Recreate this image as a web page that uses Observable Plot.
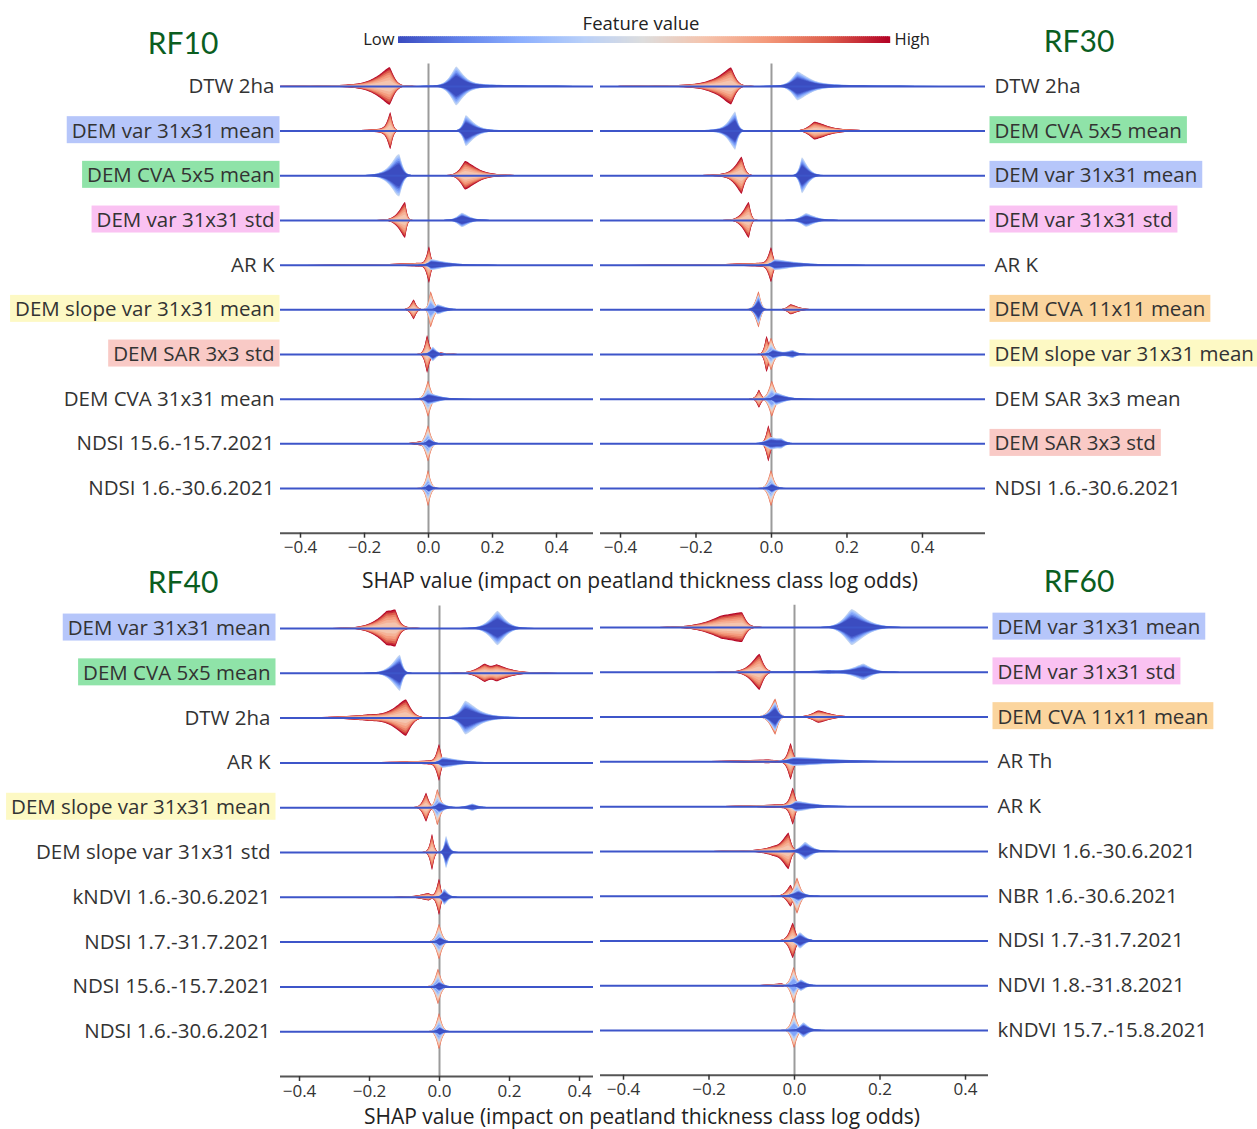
<!DOCTYPE html>
<html>
<head>
<meta charset="utf-8">
<script src="https://cdn.jsdelivr.net/npm/d3@7"></script>
<script src="https://cdn.jsdelivr.net/npm/@observablehq/plot@0.6"></script>
<style>
  body { margin: 0; background: #fff; }
  #fig { position: relative; width: 1257px; height: 1129px; overflow: hidden; font-family: "Open Sans", sans-serif; color: #333; background: #fff; }
  .title { position: absolute; font-family: Lato, sans-serif; font-size: 30px; color: #0b5e1f; transform: translate(-50%, -50%); white-space: nowrap; }
  .xlabel { position: absolute; font-size: 21px; color: #222; transform: translate(-50%, -50%); white-space: nowrap; }
</style>
</head>
<body>
<div id="fig"></div>
<script>
// ---- data -----------------------------------------------------------------
const shapTicks = [-0.4, -0.2, 0, 0.2, 0.4];

const rf10Features = ["DTW 2ha", "DEM var 31x31 mean", "DEM CVA 5x5 mean", "DEM var 31x31 std", "AR K",
  "DEM slope var 31x31 mean", "DEM SAR 3x3 std", "DEM CVA 31x31 mean", "NDSI 15.6.-15.7.2021", "NDSI 1.6.-30.6.2021"];
const rf30Features = ["DTW 2ha", "DEM CVA 5x5 mean", "DEM var 31x31 mean", "DEM var 31x31 std", "AR K",
  "DEM CVA 11x11 mean", "DEM slope var 31x31 mean", "DEM SAR 3x3 mean", "DEM SAR 3x3 std", "NDSI 1.6.-30.6.2021"];
const rf40Features = ["DEM var 31x31 mean", "DEM CVA 5x5 mean", "DTW 2ha", "AR K", "DEM slope var 31x31 mean",
  "DEM slope var 31x31 std", "kNDVI 1.6.-30.6.2021", "NDSI 1.7.-31.7.2021", "NDSI 15.6.-15.7.2021", "NDSI 1.6.-30.6.2021"];
const rf60Features = ["DEM var 31x31 mean", "DEM var 31x31 std", "DEM CVA 11x11 mean", "AR Th", "AR K",
  "kNDVI 1.6.-30.6.2021", "NBR 1.6.-30.6.2021", "NDSI 1.7.-31.7.2021", "NDVI 1.8.-31.8.2021", "kNDVI 15.7.-15.8.2021"];

// SHAP density lobes: [feature row, feature-value group, peak SHAP, peak density, spread left, spread right]
const rf10Lobes = [
  [0, "hi", -0.12, 1.0, 0.045, 0.018], [0, "hi", -0.17, 0.12, 0.12, 0.05],
  [0, "lo", 0.088, 1.0, 0.025, 0.03], [0, "lo", 0.12, 0.12, 0.06, 0.14],
  [1, "hi", -0.118, 1.0, 0.012, 0.009], [1, "hi", -0.14, 0.1, 0.07, 0.02],
  [1, "lo", 0.118, 0.82, 0.012, 0.03], [1, "lo", 0.15, 0.08, 0.04, 0.08],
  [2, "lo", -0.09, 1.0, 0.03, 0.013], [2, "lo", -0.1, 0.25, 0.05, 0.02],
  [2, "hi", 0.116, 0.75, 0.02, 0.04], [2, "hi", 0.15, 0.1, 0.04, 0.09],
  [3, "hi", -0.072, 1.0, 0.025, 0.007], [3, "lo", 0.106, 0.4, 0.02, 0.03],
  [4, "hi", 0.003, 1.0, 0.01, 0.008], [4, "hi", -0.03, 0.1, 0.1, 0.02], [4, "lo", 0.01, 0.3, 0.012, 0.06],
  [5, "hi", -0.045, 0.55, 0.012, 0.01], [5, "mid", 0.008, 1.0, 0.008, 0.013], [5, "lo", 0.03, 0.28, 0.01, 0.03],
  [6, "hi", -0.003, 1.0, 0.009, 0.009], [6, "hi", 0.02, 0.15, 0.02, 0.03], [6, "lo", 0.015, 0.4, 0.012, 0.015],
  [7, "mid", 0.0, 1.0, 0.012, 0.012], [7, "lo", 0.0, 0.35, 0.012, 0.04],
  [8, "mid", 0.0, 1.0, 0.012, 0.011], [8, "hi", -0.02, 0.12, 0.03, 0.01], [8, "lo", 0.003, 0.32, 0.01, 0.015],
  [9, "mid", 0.0, 1.0, 0.01, 0.01], [9, "lo", 0.002, 0.28, 0.009, 0.012]
];
const rf30Lobes = [
  [0, "hi", -0.106, 1.0, 0.04, 0.015], [0, "hi", -0.16, 0.12, 0.1, 0.04],
  [0, "lo", 0.07, 0.72, 0.02, 0.035], [0, "lo", 0.1, 0.13, 0.05, 0.12],
  [1, "lo", -0.095, 1.0, 0.02, 0.009], [1, "lo", -0.11, 0.12, 0.06, 0.02],
  [1, "hi", 0.115, 0.45, 0.02, 0.035], [1, "hi", 0.14, 0.1, 0.03, 0.1],
  [2, "hi", -0.078, 1.0, 0.02, 0.01], [2, "hi", -0.1, 0.1, 0.06, 0.02], [2, "lo", 0.082, 1.0, 0.009, 0.02],
  [3, "hi", -0.059, 1.0, 0.02, 0.007], [3, "lo", 0.093, 0.38, 0.02, 0.03],
  [4, "hi", 0.0, 0.95, 0.01, 0.008], [4, "hi", -0.03, 0.1, 0.1, 0.02], [4, "lo", 0.01, 0.3, 0.012, 0.07],
  [5, "mid", -0.033, 1.0, 0.011, 0.008], [5, "lo", -0.033, 0.8, 0.011, 0.008], [5, "hi", 0.052, 0.28, 0.012, 0.025],
  [6, "hi", -0.012, 1.0, 0.007, 0.01], [6, "mid", 0.0, 0.9, 0.01, 0.011],
  [6, "lo", 0.005, 0.3, 0.01, 0.02], [6, "lo", 0.057, 0.22, 0.02, 0.015],
  [7, "hi", -0.032, 0.5, 0.008, 0.008], [7, "mid", 0.002, 1.0, 0.011, 0.012], [7, "lo", 0.013, 0.35, 0.01, 0.03],
  [8, "hi", -0.007, 1.0, 0.008, 0.008], [8, "lo", 0.0, 0.3, 0.02, 0.02], [8, "lo", 0.027, 0.22, 0.02, 0.015],
  [9, "mid", 0.0, 1.0, 0.01, 0.01], [9, "lo", 0.002, 0.32, 0.01, 0.013]
];
const rf40Lobes = [
  [0, "hi", -0.15, 0.78, 0.045, 0.03], [0, "hi", -0.125, 0.66, 0.02, 0.012], [0, "lo", 0.167, 0.95, 0.03, 0.03],
  [1, "lo", -0.112, 1.0, 0.03, 0.01], [1, "hi", 0.13, 0.46, 0.03, 0.02], [1, "hi", 0.165, 0.42, 0.02, 0.05],
  [2, "hi", -0.095, 1.0, 0.045, 0.02], [2, "hi", -0.2, 0.15, 0.1, 0.05],
  [2, "lo", 0.075, 0.85, 0.02, 0.04], [2, "lo", 0.1, 0.12, 0.05, 0.12],
  [3, "hi", 0.0, 1.0, 0.01, 0.008], [3, "hi", -0.03, 0.1, 0.1, 0.02], [3, "lo", 0.01, 0.3, 0.012, 0.06],
  [4, "hi", -0.037, 0.8, 0.012, 0.01], [4, "mid", -0.005, 1.0, 0.009, 0.012],
  [4, "lo", 0.0, 0.35, 0.01, 0.02], [4, "lo", 0.095, 0.2, 0.02, 0.02],
  [5, "hi", -0.02, 1.0, 0.008, 0.007], [5, "lo", 0.02, 0.9, 0.007, 0.01],
  [6, "hi", 0.0, 1.0, 0.009, 0.007], [6, "hi", -0.03, 0.2, 0.035, 0.01], [6, "lo", 0.015, 0.45, 0.009, 0.013],
  [7, "mid", 0.0, 0.98, 0.011, 0.011], [7, "lo", 0.002, 0.32, 0.01, 0.015],
  [8, "mid", -0.003, 0.98, 0.011, 0.011], [8, "lo", 0.0, 0.32, 0.01, 0.015],
  [9, "mid", 0.0, 1.0, 0.01, 0.01], [9, "lo", 0.002, 0.3, 0.009, 0.012]
];
const rf60Lobes = [
  [0, "hi", -0.122, 0.75, 0.06, 0.012], [0, "hi", -0.17, 0.28, 0.05, 0.04], [0, "lo", 0.135, 1.0, 0.025, 0.04],
  [1, "hi", -0.081, 1.0, 0.025, 0.012], [1, "lo", 0.162, 0.45, 0.03, 0.025], [1, "lo", 0.08, 0.1, 0.06, 0.04],
  [2, "mid", -0.044, 1.0, 0.015, 0.009], [2, "lo", -0.044, 0.8, 0.015, 0.009], [2, "hi", 0.057, 0.34, 0.02, 0.035],
  [3, "hi", -0.008, 1.0, 0.009, 0.008], [3, "hi", -0.06, 0.1, 0.1, 0.03], [3, "lo", 0.0, 0.25, 0.02, 0.12],
  [4, "hi", -0.003, 1.0, 0.009, 0.008], [4, "hi", -0.03, 0.1, 0.08, 0.02], [4, "lo", 0.005, 0.3, 0.012, 0.05],
  [5, "hi", -0.013, 1.0, 0.02, 0.008], [5, "hi", -0.05, 0.18, 0.04, 0.02], [5, "lo", 0.026, 0.5, 0.015, 0.02],
  [6, "hi", -0.008, 0.6, 0.012, 0.008], [6, "mid", 0.007, 1.0, 0.01, 0.01], [6, "lo", 0.01, 0.35, 0.015, 0.015],
  [7, "hi", -0.003, 0.98, 0.011, 0.009], [7, "lo", 0.014, 0.45, 0.012, 0.015],
  [8, "mid", -0.001, 1.0, 0.009, 0.009], [8, "hi", -0.03, 0.1, 0.03, 0.01], [8, "lo", 0.016, 0.32, 0.011, 0.015],
  [9, "mid", 0.0, 1.0, 0.009, 0.009], [9, "lo", 0.022, 0.42, 0.012, 0.015]
];

// ---- styles ---------------------------------------------------------------
const coolwarm = d3.piecewise(d3.interpolateRgb,
  ["#3b4cc0", "#6282ea", "#8db0fe", "#b8d0f9", "#dddddd", "#f5c4ad", "#f49a7b", "#de604d", "#b40426"]);

// stacked layers of each group, outermost first: [feature value, share of the envelope]
const layerStyles = {
  hi:  [[1.0, 1], [0.95, 0.93], [0.88, 0.84], [0.8, 0.72], [0.74, 0.6], [0.68, 0.46], [0.62, 0.3]],
  mid: [[0.85, 1], [0.74, 0.9], [0.64, 0.8], [0.55, 0.7], [0.42, 0.58], [0.32, 0.46], [0.22, 0.35]],
  lo:  [[0.42, 1], [0.35, 0.93], [0.27, 0.85], [0.2, 0.77], [0.12, 0.68], [0.05, 0.6], [0.0, 0.52]]
};
const groupOrder = ["hi", "mid", "lo"];
const ROW_HALF = 0.403;          // half-height of a unit density, in rows
const KERNEL_POWER = 1.4;        // rounded peak, exponential-like flanks
const spreadSteps = [0, 0.03, 0.07, 0.12, 0.2, 0.3, 0.42, 0.56, 0.72, 0.9, 1.1, 1.35, 1.65, 2, 2.4, 2.9, 3.5, 4.2, 5, 6, 7.5, 9];

const labelHighlight = {
  "DEM var 31x31 mean": "#b6c6fa",
  "DEM CVA 5x5 mean": "#8fe3a8",
  "DEM var 31x31 std": "#fac2f2",
  "DEM slope var 31x31 mean": "#fdf9c4",
  "DEM SAR 3x3 std": "#f9cac6",
  "DEM CVA 11x11 mean": "#fbd59e"
};

// ---- layered violin outlines ---------------------------------------------
function buildLayers(lobes, domain) {
  const out = [];
  const byRow = d3.group(lobes, d => d[0], d => d[1]);
  for (const g of groupOrder) {
    for (const [row, groups] of byRow) {
      const members = groups.get(g);
      if (!members) continue;
      const xs = new Set([domain[0], domain[1]]);
      for (const [, , x0, , wl, wr] of members) {
        for (const s of spreadSteps) { xs.add(x0 - s * wl); xs.add(x0 + s * wr); }
      }
      const grid = [...xs].filter(x => x >= domain[0] && x <= domain[1]).sort((a, b) => a - b);
      const dens = grid.map(x => d3.sum(members, ([, , x0, h, wl, wr]) => {
        const u = x < x0 ? (x0 - x) / wl : (x - x0) / wr;
        return h * Math.exp(-Math.pow(u, KERNEL_POWER));
      }));
      for (const [v, share] of layerStyles[g]) {
        const key = `${row}-${g}-${v}`;
        grid.forEach((x, i) => {
          const half = dens[i] * share * ROW_HALF;
          out.push({key, x, y1: row - half, y2: row + half, v});
        });
      }
    }
  }
  return out;
}

function panel({features, lobes, domain, anchor, pad, width, height, marginLeft, marginRight, marginTop, marginBottom}) {
  const rows = d3.range(features.length);
  return Plot.plot({
    width, height, marginLeft, marginRight, marginTop, marginBottom,
    style: {background: "transparent", overflow: "visible", fontFamily: "Open Sans, sans-serif", color: "#333"},
    x: {domain, axis: null},
    y: {domain: [-0.5, 10], range: [marginTop, height - marginBottom], axis: null},
    color: {type: "linear", domain: [0, 1], interpolate: coolwarm},
    marks: [
      Plot.ruleX([0], {stroke: "#9b9b9b", strokeWidth: 2}),
      Plot.areaY(buildLayers(lobes, domain), {x: "x", y1: "y1", y2: "y2", z: "key", fill: "v", curve: "linear"}),
      Plot.ruleY(rows, {stroke: "#3d55c9", strokeWidth: 2}),
      Plot.ruleY([10], {stroke: "#555", strokeWidth: 2}),
      Plot.axisX(shapTicks, {tickSize: 5, tickPadding: 3, fontSize: 17, strokeWidth: 1.5,
        tickFormat: d3.format(".1f"), label: null}),
      Plot.axisY(rows, {anchor, tickSize: 0, tickPadding: pad, fontSize: 20.5,
        tickFormat: i => features[i], label: null})
    ]
  });
}

function highlightLabels(svg) {
  svg.querySelectorAll('g[aria-label="y-axis tick label"] text').forEach(t => {
    const fill = labelHighlight[t.textContent];
    if (!fill) return;
    const b = t.getBBox();
    const r = document.createElementNS("http://www.w3.org/2000/svg", "rect");
    r.setAttribute("x", b.x - 5);
    r.setAttribute("y", b.y + 0.5);
    r.setAttribute("width", b.width + 10);
    r.setAttribute("height", b.height - 1);
    r.setAttribute("fill", fill);
    r.setAttribute("stroke", "none");
    const tr = t.getAttribute("transform");
    if (tr) r.setAttribute("transform", tr);
    t.parentNode.insertBefore(r, t);
  });
}

// ---- layout ---------------------------------------------------------------
const fig = document.getElementById("fig");
function place(node, left, top) {
  node.style.position = "absolute";
  node.style.left = left + "px";
  node.style.top = top + "px";
  fig.appendChild(node);
  return node;
}
function addText(cls, text, x, y) {
  const div = document.createElement("div");
  div.className = cls;
  div.textContent = text;
  div.style.left = x + "px";
  div.style.top = y + "px";
  fig.appendChild(div);
}

const panels = [
  {features: rf10Features, lobes: rf10Lobes, domain: [-0.4625, 0.5156], anchor: "left", pad: 6,
   left: 0, top: 50, width: 600, height: 520, marginLeft: 280, marginRight: 7, marginTop: 13.6, marginBottom: 37.3},
  {features: rf30Features, lobes: rf30Lobes, domain: [-0.453, 0.567], anchor: "right", pad: 9,
   left: 596, top: 50, width: 661, height: 520, marginLeft: 4, marginRight: 272, marginTop: 13.6, marginBottom: 37.3},
  {features: rf40Features, lobes: rf40Lobes, domain: [-0.4543, 0.44], anchor: "left", pad: 10,
   left: 0, top: 595, width: 600, height: 515, marginLeft: 280, marginRight: 7, marginTop: 10.6, marginBottom: 34},
  {features: rf60Features, lobes: rf60Lobes, domain: [-0.4538, 0.4538], anchor: "right", pad: 9,
   left: 596, top: 595, width: 661, height: 515, marginLeft: 4, marginRight: 269, marginTop: 9.7, marginBottom: 35.3}
];
for (const p of panels) {
  const svg = place(panel(p), p.left, p.top);
  highlightLabels(svg);
}

// feature value colour bar
const barSlices = d3.range(245);
const bar = Plot.plot({
  width: 640, height: 50, marginLeft: 58, marginRight: 91, marginTop: 26.3, marginBottom: 17,
  style: {background: "transparent", overflow: "visible", fontFamily: "Open Sans, sans-serif", color: "#222"},
  x: {domain: [0, 1], axis: null},
  y: {domain: [0, 1], axis: null},
  color: {type: "linear", domain: [0, 1], interpolate: coolwarm},
  marks: [
    Plot.rect(barSlices, {x1: d => d / 245, x2: d => (d + 1.6) / 245, y1: 0, y2: 1, fill: d => d / 244}),
    Plot.text(["Low"], {x: 0, y: 0.5, textAnchor: "end", dx: -4, fontSize: 16.5}),
    Plot.text(["High"], {x: 1, y: 0.5, textAnchor: "start", dx: 5, fontSize: 16.5}),
    Plot.text(["Feature value"], {frameAnchor: "top", dx: -3, dy: -20, fontSize: 18.5})
  ]
});
place(bar, 340, 10);

addText("title", "RF10", 183, 42);
addText("title", "RF30", 1079, 40);
addText("title", "RF40", 183, 581);
addText("title", "RF60", 1079, 580);
addText("xlabel", "SHAP value (impact on peatland thickness class log odds)", 640, 580);
addText("xlabel", "SHAP value (impact on peatland thickness class log odds)", 642, 1116);
</script>
</body>
</html>
